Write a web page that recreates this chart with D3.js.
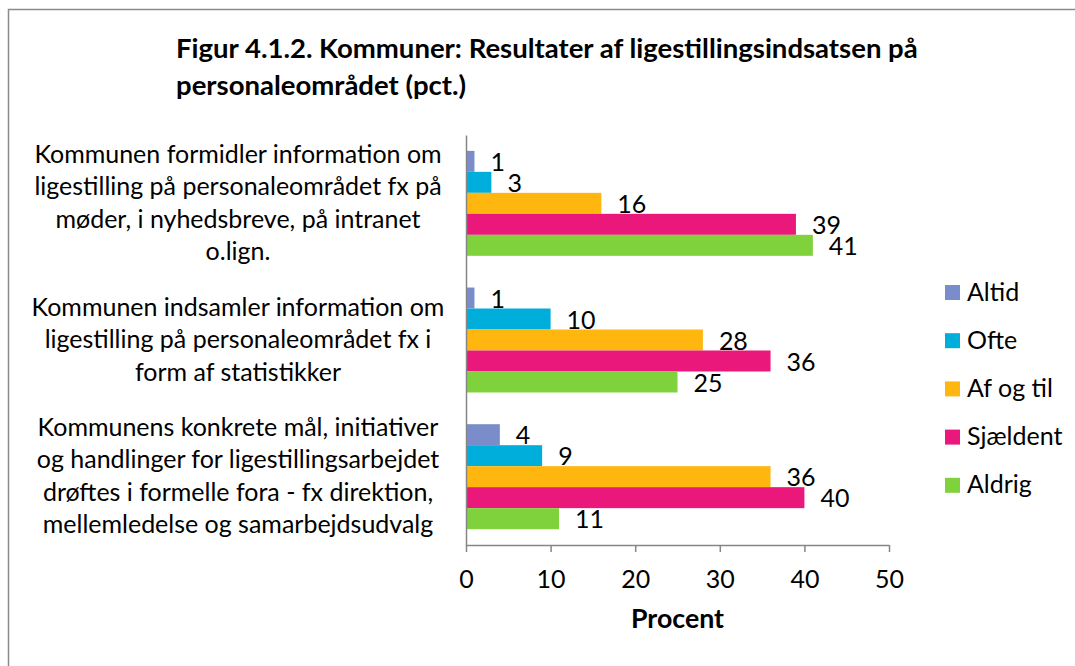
<!DOCTYPE html>
<html>
<head>
<meta charset="utf-8">
<script src="https://cdn.jsdelivr.net/npm/d3@7"></script>
<style>
  body { margin: 0; background: #fff; }
  text { font-family: Lato, "Open Sans", sans-serif; fill: #000; }
</style>
</head>
<body>
<div id="chart"></div>
<script>
// Data
const categories = [
    "Kommunen formidler information om|ligestilling på personaleområdet fx på|møder, i nyhedsbreve, på intranet|o.lign.",
    "Kommunen indsamler information om|ligestilling på personaleområdet fx i|form af statistikker",
    "Kommunens konkrete mål, initiativer|og handlinger for ligestillingsarbejdet|drøftes i formelle fora - fx direktion,|mellemledelse og samarbejdsudvalg"
];
const series = ["Altid", "Ofte", "Af og til", "Sjældent", "Aldrig"];
const altid = [1, 1, 4];
const ofte = [3, 10, 9];
const afOgTil = [16, 28, 36];
const sjaeldent = [39, 36, 40];
const aldrig = [41, 25, 11];
const xTicks = [0, 10, 20, 30, 40, 50];
const titleLines = ["Figur 4.1.2. Kommuner: Resultater af ligestillingsindsatsen på", "personaleområdet (pct.)"];
const axisTitle = "Procent";

const colors = ["#7a8dca", "#00aedc", "#ffb60f", "#e9187a", "#7fd23c"];
const valuesBySeries = [altid, ofte, afOgTil, sjaeldent, aldrig];

const W = 1075, H = 666;
const svg = d3.select("#chart").append("svg")
    .attr("width", W)
    .attr("height", H);

svg.append("rect").attr("width", W).attr("height", H).attr("fill", "#fff");

// outer frame (right/bottom edges fall outside the picture)
svg.append("rect")
    .attr("x", 8.5).attr("y", 9.5)
    .attr("width", W + 20).attr("height", H + 20)
    .attr("fill", "none")
    .attr("stroke", "#8a8a8a")
    .attr("stroke-width", 1.5);

// pick font sizes so widths come out close to the original Calibri text
function fitSize(str, weight, target) {
    const t = svg.append("text").attr("font-size", 20).attr("font-weight", weight).text(str);
    const w = t.node().getComputedTextLength();
    t.remove();
    return 20 * target / w;
}
const titleSize = fitSize(titleLines[0], "bold", 742);
const labelSize = fitSize("Kommunen indsamler information om", "normal", 413);
const axisTitleSize = fitSize(axisTitle, "bold", 93);

// Scales
const x = d3.scaleLinear().domain([0, 50]).range([466, 889]);
const y = d3.scaleBand()
    .domain(d3.range(categories.length))
    .range([135, 545])
    .paddingInner(0.232)
    .paddingOuter(0.116);
const ySub = d3.scaleBand()
    .domain(series)
    .range([0, y.bandwidth()]);

// Title
svg.append("text")
    .attr("x", 176)
    .attr("font-size", titleSize)
    .attr("font-weight", "bold")
    .selectAll("tspan")
    .data(titleLines)
    .enter().append("tspan")
    .attr("x", 176)
    .attr("y", (d, i) => 58 + i * 37)
    .text(d => d);

// Bars
const rows = [];
categories.forEach((c, ci) => {
    series.forEach((s, si) => {
        rows.push({ cat: ci, series: s, si: si, value: valuesBySeries[si][ci] });
    });
});

svg.selectAll(".bar")
    .data(rows)
    .enter().append("rect")
    .attr("class", "bar")
    .attr("x", x(0))
    .attr("y", d => y(d.cat) + ySub(d.series))
    .attr("width", d => x(d.value) - x(0))
    .attr("height", ySub.bandwidth())
    .attr("fill", d => colors[d.si]);

// Value labels
svg.selectAll(".bar-label")
    .data(rows)
    .enter().append("text")
    .attr("class", "bar-label")
    .attr("x", d => x(d.value) + 16)
    .attr("y", d => y(d.cat) + ySub(d.series) + ySub.bandwidth() / 2 + 1)
    .attr("dy", ".35em")
    .attr("font-size", labelSize)
    .text(d => d.value);

// X axis
const xAxis = svg.append("g")
    .attr("transform", "translate(0,545)")
    .call(d3.axisBottom(x).tickValues(xTicks).tickSize(7).tickSizeOuter(0));
xAxis.select(".domain").attr("stroke", "#868686").attr("stroke-width", 1.5);
xAxis.selectAll(".tick line").attr("stroke", "#868686").attr("stroke-width", 1.5);
xAxis.selectAll(".tick text")
    .attr("y", 43)
    .attr("dy", 0)
    .attr("fill", "#000")
    .attr("font-size", labelSize)
    .attr("font-family", null);

// Y axis (line only, no ticks)
const yAxis = svg.append("g")
    .attr("transform", `translate(${x(0)},0)`)
    .call(d3.axisLeft(y).tickSize(0).tickFormat(""));
yAxis.select(".domain").attr("stroke", "#868686").attr("stroke-width", 1.5);

// Category labels
const lineH = 32.5;
svg.selectAll(".cat-label")
    .data(categories)
    .enter().append("text")
    .attr("class", "cat-label")
    .attr("text-anchor", "middle")
    .attr("font-size", labelSize)
    .each(function(d, i) {
        const lines = d.split("|");
        const c = y(i) + y.bandwidth() / 2;
        d3.select(this).selectAll("tspan")
            .data(lines)
            .enter().append("tspan")
            .attr("x", 238)
            .attr("y", (l, j) => c + (j - (lines.length - 1) / 2) * lineH + 8)
            .text(l => l);
    });

// Axis title
svg.append("text")
    .attr("x", (x(0) + x(50)) / 2)
    .attr("y", 628)
    .attr("text-anchor", "middle")
    .attr("font-weight", "bold")
    .attr("font-size", axisTitleSize)
    .text(axisTitle);

// Legend
const legend = svg.selectAll(".legend")
    .data(series)
    .enter().append("g")
    .attr("class", "legend")
    .attr("transform", (d, i) => `translate(945,${292.5 + i * 48.2})`);
legend.append("rect")
    .attr("x", 0).attr("y", -7.5)
    .attr("width", 15).attr("height", 15)
    .attr("fill", (d, i) => colors[i]);
legend.append("text")
    .attr("x", 22)
    .attr("y", 8)
    .attr("font-size", labelSize)
    .text(d => d);
</script>
</body>
</html>
